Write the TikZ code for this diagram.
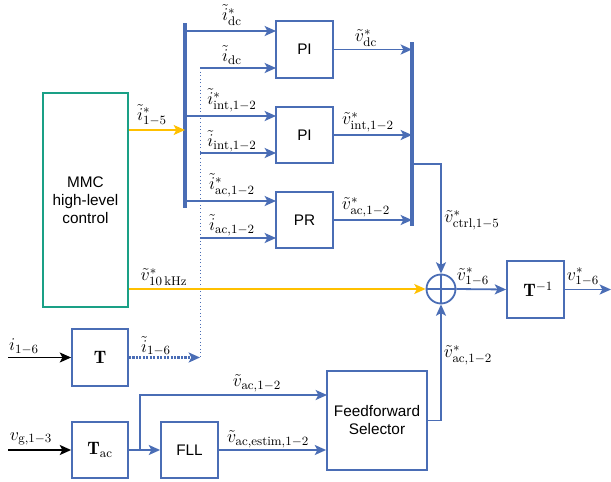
\RequirePackage{fix-cm}
\documentclass[tikz,border=0pt]{standalone}
\usepackage{fontspec}
\setsansfont{Liberation Sans}
\usetikzlibrary{arrows.meta}
\definecolor{cblue}{HTML}{4A6DB5}
\definecolor{cyel}{HTML}{FFC000}
\definecolor{cteal}{HTML}{1AA086}
\tikzset{
  blk/.style 2 args={draw=cblue, line width=1.35pt, minimum width=#1*0.75pt, minimum height=#2*0.75pt,
    inner sep=0pt, font=\sffamily\fontsize{11.5}{13.5}\selectfont, align=center},
  mathbox/.style={font=\fontsize{13.5}{16}\selectfont},
  lbl/.style={font=\fontsize{13.5}{16}\selectfont, inner sep=0pt},
  tip/.style={-{Stealth[length=8.5pt,width=7.5pt,inset=2pt]}},
  arr/.style={cblue, line width=1.35pt, tip},
  yarr/.style={cyel, line width=1pt, tip},
  karr/.style={black, line width=1.35pt, tip},
  bus/.style={cblue, line width=2.5pt},
}
\begin{document}
\begin{tikzpicture}[x=0.75pt,y=-0.75pt]
\useasboundingbox (0,0) rectangle (611,482);
% blocks
\node[blk={85}{214}, draw=cteal] (mmc) at (85.5,200) {MMC\\high-level\\control};
\node[blk={57}{57}] (pi1) at (304.5,49.5) {PI};
\node[blk={57}{56}] (pi2) at (304.5,135) {PI};
\node[blk={57}{56}] (pr) at (304.5,220) {PR};
\node[blk={56}{57}, mathbox] (t) at (100,357.5) {$\mathbf{T}$};
\node[blk={56}{56}, mathbox] (tac) at (100,450) {$\mathbf{T}_{\mathrm{ac}}$};
\node[blk={57}{56}] (fll) at (189.5,450) {FLL};
\node[blk={100}{99}] (ff) at (377,420.5) {Feedforward\\Selector};
\node[blk={57}{57}, mathbox, text width=57*0.75pt, align=center] (tinv) at (535.5,289.5) {\hspace*{4pt}$\mathbf{T}^{-1}$};
\node[circle, draw=cblue, line width=1.35pt, minimum size=29*0.75pt, inner sep=0pt] (sum) at (441,289) {};
\draw[cblue, line width=1.35pt] (sum.north) -- (sum.south) (sum.west) -- (sum.east);
% buses
\coordinate (lb1) at (185,23);
\coordinate (lb2) at (185,208);
\draw[bus] (lb1) -- (lb2);
\coordinate (db1) at (200,68);
\coordinate (db2) at (200,357.5);
\draw[cblue, line width=0.7pt, dotted] (db1) -- (db2);
\coordinate (rb1) at (412,42);
\coordinate (rb2) at (412,226);
\draw[bus] (rb1) -- (rb2);
% rows into controllers
\coordinate (a1) at (276,31);
\coordinate (a2) at (276,116);
\coordinate (a3) at (276,201);
\coordinate (b1) at (276,68);
\coordinate (b2) at (276,153);
\coordinate (b3) at (276,238);
\draw[arr] (lb1 |- a1) -- (a1);
\draw[arr] (lb1 |- a2) -- (a2);
\draw[arr] (lb1 |- a3) -- (a3);
\draw[arr] (db1 |- b1) -- (b1);
\draw[arr] (db1 |- b2) -- (b2);
\draw[arr] (db1 |- b3) -- (b3);
\coordinate (y1) at (185,130);
\draw[yarr] (mmc.east |- y1) -- (y1);
% controller outputs
\draw[arr] (pi1.east) -- (rb1 |- pi1.east);
\draw[arr] (pi2.east) -- (rb1 |- pi2.east);
\draw[arr] (pr.east) -- (rb1 |- pr.east);
\coordinate (c1) at (412,164);
\draw[arr] (c1) -| (sum.north);
\draw[yarr] (mmc.east |- sum.west) -- (sum.west);
\draw[arr] (sum.east) -- (tinv.west);
\coordinate (out) at (611,289.5);
\draw[arr] (tinv.east) -- (out);
\draw[arr] (ff.east) -| (sum.south);
% lower part
\coordinate (in1) at (8,357.5);
\draw[karr] (in1) -- (t.west);
\draw[arr, line width=1.6pt, dash pattern=on 1.6pt off 1pt] (t.east) -- (db2);
\coordinate (in2) at (8,450);
\draw[karr] (in2) -- (tac.west);
\coordinate (br) at (140,450);
\coordinate (ffa) at (327,395);
\draw[arr] (tac.east) -- (fll.west);
\draw[arr] (br) |- (ffa);
\draw[arr] (fll.east) -- (ff.west |- fll.east);
% labels
\node[lbl] (l1) at (232,15) {$\tilde{i}^*_{\mathrm{dc}}$};
\node[lbl] (l2) at (232,55) {$\tilde{i}_{\mathrm{dc}}$};
\node[lbl] (l3) at (232,100) {$\tilde{i}^*_{\mathrm{int},1-2}$};
\node[lbl] (l4) at (232,141) {$\tilde{i}_{\mathrm{int},1-2}$};
\node[lbl] (l5) at (232,185) {$\tilde{i}^*_{\mathrm{ac},1-2}$};
\node[lbl] (l6) at (232,225) {$\tilde{i}_{\mathrm{ac},1-2}$};
\node[lbl] (l7) at (152,115) {$\tilde{i}^*_{1-5}$};
\node[lbl] (l8) at (366,38) {$\tilde{v}^*_{\mathrm{dc}}$};
\node[lbl] (l9) at (368,122) {$\tilde{v}^*_{\mathrm{int},1-2}$};
\node[lbl] (l10) at (366,207) {$\tilde{v}^*_{\mathrm{ac},1-2}$};
\node[lbl] (l11) at (472,220) {$\tilde{v}^*_{\mathrm{ctrl},1-5}$};
\node[lbl] (l12) at (164,277) {$\tilde{v}^*_{10\,\mathrm{kHz}}$};
\node[lbl] (l13) at (156,346) {$\tilde{i}_{1-6}$};
\node[lbl] (l14) at (24,347) {$i_{1-6}$};
\node[lbl] (l15) at (257,383) {$\tilde{v}_{\mathrm{ac},1-2}$};
\node[lbl] (l16) at (31,439) {$v_{\mathrm{g},1-3}$};
\node[lbl] (l17) at (268,439) {$\tilde{v}_{\mathrm{ac},\mathrm{estim},1-2}$};
\node[lbl] (l18) at (468,355) {$\tilde{v}^*_{\mathrm{ac},1-2}$};
\node[lbl] (l19) at (473,277) {$\tilde{v}^*_{1-6}$};
\node[lbl] (l20) at (583,277) {$v^*_{1-6}$};
\end{tikzpicture}
\end{document}
